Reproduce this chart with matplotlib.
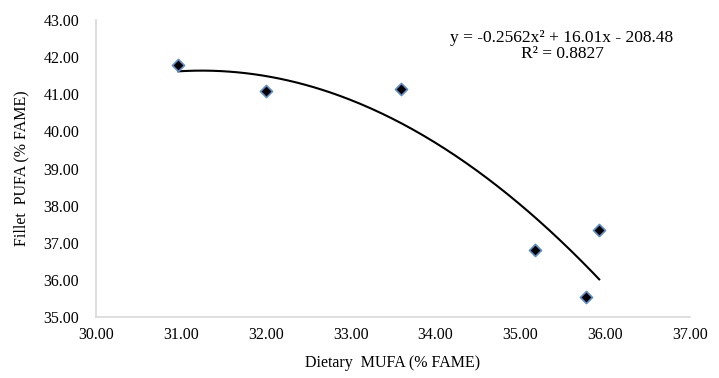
import numpy as np
import matplotlib.pyplot as plt

plt.rcParams['font.family'] = ['Liberation Serif', 'DejaVu Serif']

# data
mufa = [30.97, 32.0, 33.6, 35.17, 35.78, 35.93]
pufa = [41.8, 41.1, 41.15, 36.8, 35.55, 37.35]
# trendline coefficients as printed on the chart
coef = [-0.2562, 16.01, -208.48]
r2 = 0.8827

x_ticks = [30, 31, 32, 33, 34, 35, 36, 37]
y_ticks = [35, 36, 37, 38, 39, 40, 41, 42, 43]

fig = plt.figure(figsize=(7.19, 3.78), dpi=100)
ax = fig.add_axes([0.1335, 0.1614, 0.8262, 0.7856])

# trendline drawn over the data range
xs = np.linspace(min(mufa), max(mufa), 200)
ax.plot(xs, np.polyval(coef, xs), color='black', linewidth=1.5, zorder=2)
ax.scatter(mufa, pufa, marker='D', s=38, facecolor='black',
           edgecolor='#5b8fd0', linewidth=1.2, zorder=3)

ax.set_xlim(30, 37)
ax.set_ylim(35, 43)
ax.set_xticks(x_ticks)
ax.set_yticks(y_ticks)
ax.set_xticklabels([f'{v:.2f}' for v in x_ticks], fontsize=11.5)
ax.set_yticklabels([f'{v:.2f}' for v in y_ticks], fontsize=11.5)
ax.tick_params(axis='y', length=0, pad=12)
ax.tick_params(axis='x', length=0, pad=7)

for s in ['top', 'right']:
    ax.spines[s].set_visible(False)
for s in ['left', 'bottom']:
    ax.spines[s].set_color('#d9d9d9')
    ax.spines[s].set_linewidth(1.2)

ax.set_xlabel('Dietary  MUFA (% FAME)', fontsize=11.5, labelpad=9)
ax.set_ylabel('Fillet  PUFA (% FAME)', fontsize=11.5, labelpad=10)

eq = f'y = {coef[0]}x² + {coef[1]}x - {abs(coef[2]):.2f}\nR² = {r2}'
ax.annotate(eq, xy=(562, 378 - 46), xycoords='figure pixels', ha='center',
            va='center', fontsize=12.5, linespacing=1.0)

fig.savefig('out.png', dpi=100)
